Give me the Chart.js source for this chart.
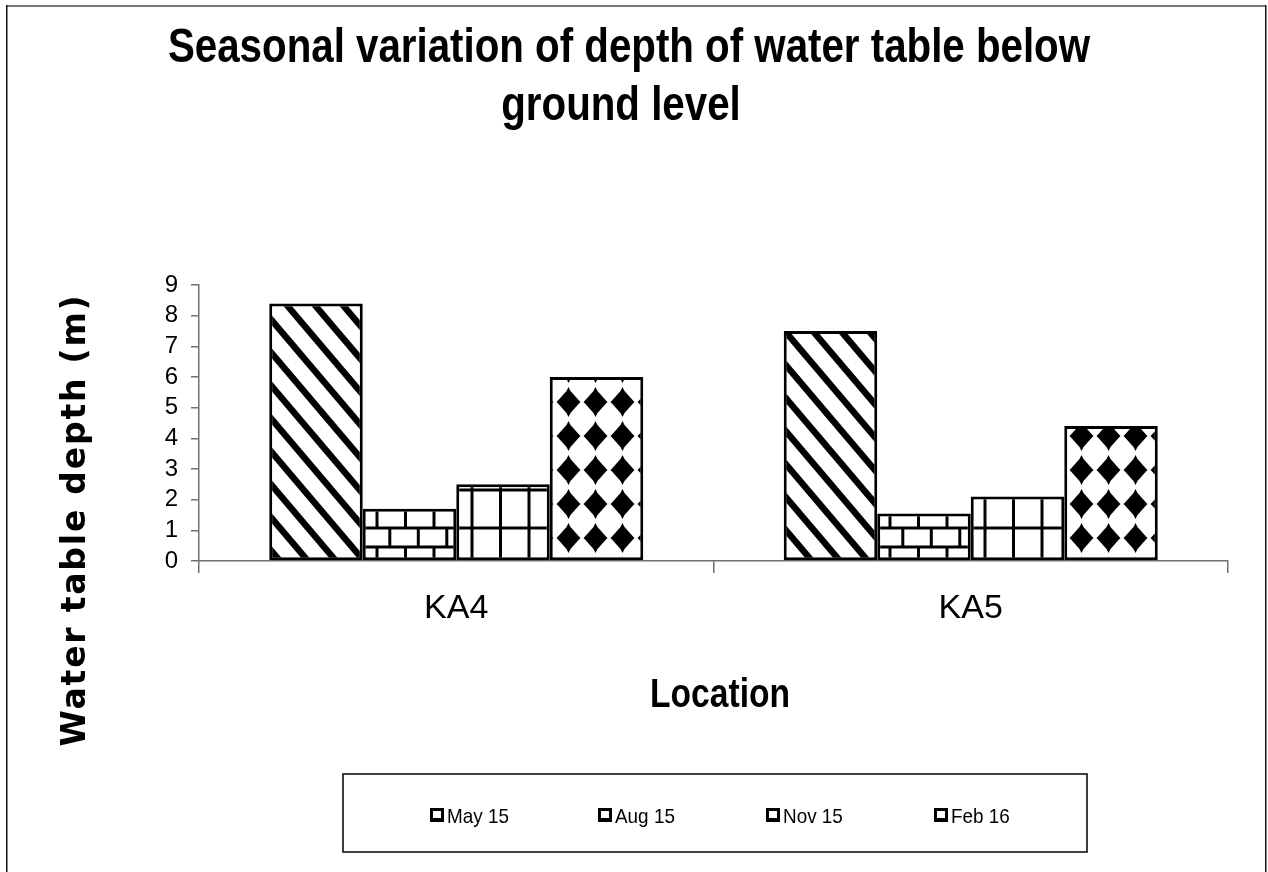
<!DOCTYPE html>
<html>
<head>
<meta charset="utf-8">
<title>Seasonal variation of depth of water table</title>
<script src="https://cdn.jsdelivr.net/npm/chart.js@4.4.0/dist/chart.umd.min.js"></script>
<style>
  body { margin: 0; background: #fff; }
</style>
</head>
<body>
<canvas id="myChart" width="1268" height="872"></canvas>
<script>
// ---------- data
const locations = ["KA4", "KA5"];
const seasons = ["May 15", "Aug 15", "Nov 15", "Feb 16"];
const may15 = [8.4, 7.5];
const aug15 = [1.7, 1.55];
const nov15 = [2.5, 2.1];
const feb16 = [6.0, 4.4];
const yTicks = [0, 1, 2, 3, 4, 5, 6, 7, 8, 9];
const titleLines = ["Seasonal variation of depth of water table below", "ground level"];

const arial = "'Liberation Sans', Arial, sans-serif";

let canvas = document.getElementById("myChart");
let ctx = canvas.getContext("2d");

// ---------- fill patterns (excel style hatches)
function makePattern(w, h, draw) {
  let tile = document.createElement("canvas");
  tile.width = w;
  tile.height = h;
  let g = tile.getContext("2d");
  g.fillStyle = "#fff";
  g.fillRect(0, 0, w, h);
  g.fillStyle = "#000";
  g.strokeStyle = "#000";
  draw(g, w, h);
  return ctx.createPattern(tile, "repeat");
}

// May 15 - thick diagonal stripes
let stripes = makePattern(28, 33, function (g, w, h) {
  g.lineWidth = 6.5;
  for (let k = -2; k <= 2; k++) {
    g.beginPath();
    g.moveTo(k * w - w, -h);
    g.lineTo(k * w + 2 * w, 2 * h);
    g.stroke();
  }
});

// Aug 15 - bricks
let bricks = makePattern(57, 38, function (g, w, h) {
  g.fillRect(0, 13.5, w, 3);
  g.fillRect(0, 32.5, w, 3);
  [6.5, 35].forEach((x) => g.fillRect(x - 1.5, 15, 3, 19));
  [19.3, 47.8].forEach((x) => {
    g.fillRect(x - 1.5, 34, 3, 4);
    g.fillRect(x - 1.5, 0, 3, 15);
  });
});

// Nov 15 - big grid
let grid = makePattern(57, 38, function (g, w, h) {
  g.fillRect(0, 32.5, w, 3);
  [16, 44.5].forEach((x) => g.fillRect(x - 1.5, 0, 3, h));
});

// Feb 16 - black diamonds
let diamonds = makePattern(54, 34, function (g, w, h) {
  const xs = [-25.5, 1.5, 28.5, 55.5];
  const ys = [-6, 28];
  xs.forEach((cx) => {
    ys.forEach((cy) => {
      g.beginPath();
      g.moveTo(cx, cy - 15);
      g.lineTo(cx + 2, cy - 11);
      g.lineTo(cx + 10.5, cy - 1.5);
      g.lineTo(cx + 12, cy);
      g.lineTo(cx + 10.5, cy + 1.5);
      g.lineTo(cx + 2, cy + 11);
      g.lineTo(cx, cy + 15);
      g.lineTo(cx - 2, cy + 11);
      g.lineTo(cx - 10.5, cy + 1.5);
      g.lineTo(cx - 12, cy);
      g.lineTo(cx - 10.5, cy - 1.5);
      g.lineTo(cx - 2, cy - 11);
      g.closePath();
      g.fill();
    });
  });
});

// narrow text helper (the original uses a condensed arial)
function narrowText(c, text, x, y, font, squeeze, align) {
  c.save();
  c.font = font;
  c.fillStyle = "#000";
  c.textAlign = align || "center";
  c.textBaseline = "alphabetic";
  c.translate(x, y);
  c.scale(squeeze, 1);
  c.fillText(text, 0, 0);
  c.restore();
}

// ---------- extra drawing: frame, titles, legend box
const frame = {
  id: "frame",
  beforeDraw(chart) {
    let c = chart.ctx;
    c.save();
    c.fillStyle = "#fff";
    c.fillRect(0, 0, chart.width, chart.height);
    c.fillStyle = "#777";
    c.fillRect(6, 5, 1260, 2);
    c.fillStyle = "#111";
    c.fillRect(6, 5, 1.5, 867);
    c.fillRect(1265, 5, 1.5, 867);
    c.restore();
  },
};

const titles = {
  id: "titles",
  afterDraw(chart) {
    let c = chart.ctx;
    narrowText(c, titleLines[0], 629, 62, "bold 49px " + arial, 0.822);
    narrowText(c, titleLines[1], 621, 120, "bold 49px " + arial, 0.822);
    narrowText(c, "Location", 720, 707, "bold 41px " + arial, 0.82);

    c.save();
    c.translate(85, 520);
    c.rotate(-Math.PI / 2);
    c.font = "bold 33px 'DejaVu Sans', sans-serif";
    try { c.letterSpacing = "1.8px"; } catch (e) {}
    c.fillStyle = "#000";
    c.textAlign = "center";
    c.textBaseline = "alphabetic";
    c.fillText("Water table depth (m)", 0, 0);
    c.restore();
  },
};

const legendBox = {
  id: "legendBox",
  afterDraw(chart) {
    let c = chart.ctx;
    c.save();
    c.strokeStyle = "#000";
    c.lineWidth = 1.5;
    c.strokeRect(343, 774, 744, 78);
    chart.data.datasets.forEach(function (ds, i) {
      let x = 430 + i * 168;
      let y = 815;
      c.fillStyle = "#000";
      c.fillRect(x, y - 7, 14, 14);
      c.fillStyle = "#fff";
      c.fillRect(x + 3, y - 4, 8, 7);
      narrowText(c, ds.label, x + 17, y + 7.5, "21px " + arial, 0.9, "left");
    });
    c.restore();
  },
};

let barChart = new Chart(ctx, {
  type: "bar",
  data: {
    labels: locations,
    datasets: [
      { label: seasons[0], data: may15, backgroundColor: stripes },
      { label: seasons[1], data: aug15, backgroundColor: bricks },
      { label: seasons[2], data: nov15, backgroundColor: grid },
      { label: seasons[3], data: feb16, backgroundColor: diamonds },
    ],
  },
  options: {
    responsive: false,
    animation: false,
    devicePixelRatio: 1,
    layout: { padding: { left: 0, right: 18, top: 285, bottom: 141 } },
    datasets: {
      bar: {
        borderColor: "#000",
        borderWidth: 3,
        borderSkipped: false,
        categoryPercentage: 0.727,
        barPercentage: 1.0,
      },
    },
    plugins: {
      legend: { display: false },
      tooltip: { enabled: false },
      title: { display: false },
    },
    scales: {
      x: {
        afterFit: function (scale) { scale.height = 170; },
        grid: { drawOnChartArea: false, tickLength: 12, color: "#707070", lineWidth: 1.5 },
        border: { color: "#707070", width: 1.5 },
        ticks: { color: "#000", padding: 15, font: { family: arial, size: 34 } },
      },
      y: {
        min: 0,
        max: 9,
        afterFit: function (scale) { scale.width = 199; },
        afterBuildTicks: function (scale) {
          scale.ticks = yTicks.map((v) => ({ value: v }));
        },
        grid: { drawOnChartArea: false, tickLength: 8, color: "#707070", lineWidth: 1.5 },
        border: { color: "#707070", width: 1.5 },
        ticks: { color: "#000", padding: 13, autoSkip: false, font: { family: arial, size: 24 } },
      },
      y2: {
        position: "right",
        display: true,
        afterFit: function (scale) { scale.width = 22; },
        grid: { display: false },
        border: { display: false },
        ticks: { display: false },
      },
    },
  },
  plugins: [frame, titles, legendBox],
});
</script>
</body>
</html>
